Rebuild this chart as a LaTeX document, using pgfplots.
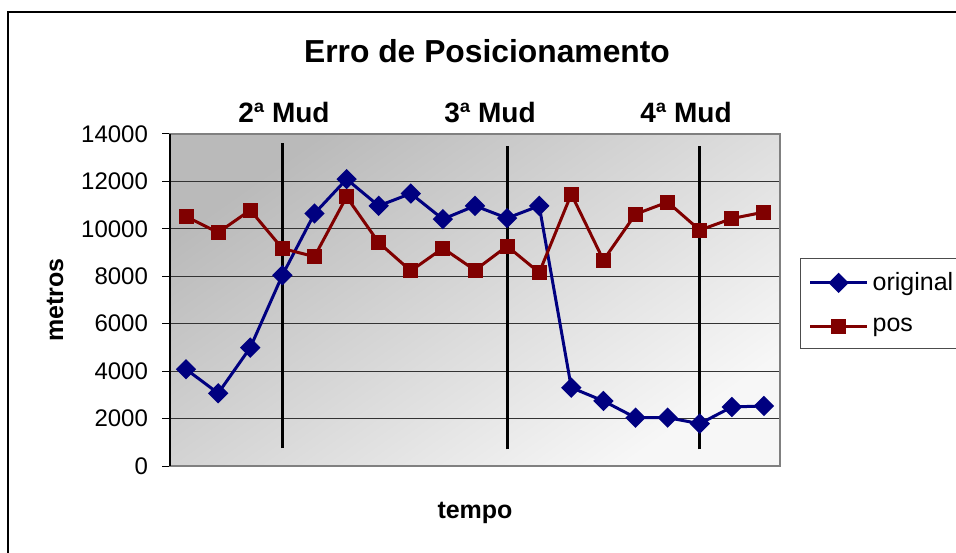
\documentclass[border=0pt]{standalone}
\usepackage{pgfplots}
\pgfplotsset{compat=1.18}
\usepackage{fontspec}
\setmainfont{Liberation Sans}
\definecolor{navyc}{RGB}{0,0,128}
\definecolor{maroonc}{RGB}{128,0,0}
\begin{document}
\begin{tikzpicture}
\useasboundingbox (0,0) rectangle (478pt,276pt);
\draw[line width=1pt] (4pt,-5pt) -- (4pt,270pt) -- (490pt,270pt);
\begin{axis}[
  at={(85pt,43pt)}, anchor=south west,
  scale only axis, width=305pt, height=166pt,
  xmin=-0.5, xmax=18.5, ymin=0, ymax=14000,
  xtick=\empty,
  ytick={0,2000,4000,6000,8000,10000,12000,14000},
  ytick pos=left, tick align=outside, major tick length=4pt,
  tick style={black, line width=0.5pt},
  yticklabel style={font=\fontsize{12}{14}\selectfont, xshift=-3.5pt},
  /pgf/number format/assume math mode=true,
  scaled y ticks=false,
  yticklabel={\pgfmathprintnumber[fixed,1000 sep={}]{\tick}},
  ymajorgrids, grid style={black!80, line width=0.5pt},
  axis line style={gray, line width=0.8pt},
  axis background/.style={shade, shading=axis, top color=black!27, bottom color=black!3, shading angle=35},
  clip=false,
  legend style={at={(1.033,0.627)}, anchor=north west, draw=black!70, line width=0.5pt,
    font=\fontsize{12.5}{15}\selectfont, row sep=8.5pt, inner xsep=4pt, inner ysep=5pt},
  legend cell align=left,
  legend image code/.code={\draw[mark repeat=2,mark phase=2] plot coordinates {(0pt,0pt) (14.25pt,0pt) (28.5pt,0pt)};},
]
\addplot[navyc, line width=1.5pt, mark=square*, mark size=2.85pt, mark options={solid, fill=navyc, rotate=45}] coordinates {
(0,4080) (1,3067) (2,4992) (3,8046) (4,10646) (5,12097) (6,10970) (7,11490) (8,10409) (9,10970)
(10,10451) (11,10970) (12,3304) (13,2743) (14,2038) (15,2038) (16,1785) (17,2489) (18,2532)};
\addlegendentry{original}
\addplot[maroonc, line width=1.5pt, mark=square*, mark size=3pt, mark options={solid, fill=maroonc}] coordinates {
(0,10519) (1,9844) (2,10789) (3,9170) (4,8831) (5,11350) (6,9422) (7,8228) (8,9185) (9,8257)
(10,9270) (11,8156) (12,11464) (13,8679) (14,10620) (15,11127) (16,9945) (17,10435) (18,10705)};
\addlegendentry{pos}
\addplot[black, line width=1.5pt, forget plot] coordinates {(3,750) (3,13600)};
\addplot[black, line width=1.5pt, forget plot] coordinates {(10,700) (10,13500)};
\addplot[black, line width=1.5pt, forget plot] coordinates {(16,700) (16,13500)};
\draw[black, line width=0.8pt] (rel axis cs:0,0) -- (rel axis cs:0,1);
\end{axis}
\node[anchor=base, font=\bfseries\fontsize{15.9}{18}\selectfont] at (243.5pt,244.5pt) {Erro de Posicionamento};
\node[anchor=base, font=\bfseries\fontsize{14}{16}\selectfont] at (142pt,214.5pt) {2ª Mud};
\node[anchor=base, font=\bfseries\fontsize{14}{16}\selectfont] at (245pt,214.5pt) {3ª Mud};
\node[anchor=base, font=\bfseries\fontsize{14}{16}\selectfont] at (343pt,214.5pt) {4ª Mud};
\node[rotate=90, font=\bfseries\fontsize{12.5}{15}\selectfont] at (27.5pt,126pt) {metros};
\node[anchor=base, font=\bfseries\fontsize{12.5}{15}\selectfont] at (237.5pt,17pt) {tempo};
\end{tikzpicture}
\end{document}
